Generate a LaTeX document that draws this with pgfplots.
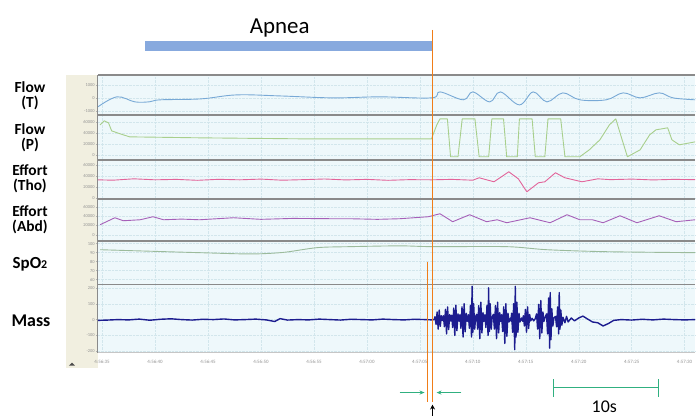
\documentclass[border=0pt]{standalone}
\usepackage{pgfplots}
\pgfplotsset{compat=1.18}
\usepackage{fontspec}
\setmainfont{Carlito}
\usetikzlibrary{arrows.meta}

\definecolor{panelbg}{HTML}{EEF8FB}
\definecolor{beige}{HTML}{F1EFE0}
\definecolor{sepgray}{HTML}{8A8A8A}
\definecolor{gridc}{HTML}{D2E6EC}
\definecolor{flowt}{HTML}{78A9D6}
\definecolor{flowp}{HTML}{A8CF8C}
\definecolor{tho}{HTML}{E2649A}
\definecolor{abd}{HTML}{A660B8}
\definecolor{spo}{HTML}{9CBB9C}
\definecolor{mass}{HTML}{1C1C8F}
\definecolor{orng}{HTML}{F07D18}
\definecolor{apneabar}{HTML}{87A9DE}
\definecolor{tealg}{HTML}{30B080}

\pgfplotsset{
  panel/.style={
    scale only axis, width=598bp, anchor=south west,
    xmin=34.6, xmax=91.0,
    axis background/.style={fill=panelbg},
    axis line style={draw=none},
    xtick={35,40,...,90}, xticklabels={}, xtick style={draw=none},
    xmajorgrids, ymajorgrids, ytick pos=left,
    major grid style={gridc, line width=0.4bp, densely dotted},
    ytick style={draw=gray!60, line width=0.4bp},
    tick align=outside, major tick length=2bp,
    yticklabel style={font=\fontsize{4.5}{5}\selectfont, text=gray!85, inner sep=1bp},
    scaled y ticks=false,
    /pgf/number format/1000 sep={},
    /pgf/number format/assume math mode=true,
  },
  sig/.style={line width=0.9bp, line join=round},
}

\begin{document}
\begin{tikzpicture}
\begin{scope}[x=1bp,y=1bp]
  \useasboundingbox (0,0) rectangle (696,416);
  \fill[white] (0,0) rectangle (696,416);
  \fill[beige] (66,48) rectangle (98,341);
  \fill[black!70] (69,50) -- (75,50) -- (72,53) -- cycle;
\end{scope}

% Flow (T)
\begin{axis}[panel, at={(98bp,301bp)}, height=40bp,
  ymin=-1310, ymax=1770, ytick={-1000,0,1000}]
\addplot[sig, flowt, smooth, tension=0.6] coordinates {
(34.6,-690) (36.4,80) (38.1,-310) (39.5,-300) (40.5,-150) (44.3,-80) (47.7,230)
(51.8,150) (56.8,0) (61.2,80) (66.1,0) (66.9,460) (69.1,-150) (70.0,460)
(71.6,-310) (72.6,460) (74.4,-540) (75.7,460) (77.0,-310) (78.5,385) (80.1,-150)
(82.6,-150) (84.2,385) (85.8,0) (87.6,385) (88.9,0) (91.0,-150)};
\end{axis}

% Flow (P)
\begin{axis}[panel, at={(98bp,256bp)}, height=45bp,
  ymin=-9100, ymax=72700, ytick={0,20000,40000,60000}]
\addplot[sig, flowp] coordinates {
(34.8,54500) (35.2,61800) (35.6,58200) (35.9,43600) (36.7,38200) (37.6,32700)
(44.3,30900) (53.7,29100) (66.1,29100) (66.6,54500) (66.9,65400) (67.6,65400)
(67.9,-3600) (68.6,-3600) (69.0,65400) (70.2,65400) (70.6,-3600) (71.5,-3600)
(71.8,65400) (72.9,65400) (73.2,-3600) (74.2,-3600) (74.4,65400) (75.6,65400)
(75.9,-3600) (76.8,-3600) (77.1,65400) (78.3,65400) (78.7,-3600) (80.1,-3600)
(81.0,9100) (82.0,27300) (82.9,54500) (83.5,65400) (84.1,27300) (84.6,-3600)
(85.8,9100) (86.7,36400) (87.3,45500) (88.4,49100) (88.8,27300) (89.5,18200)
(91.0,23600)};
\end{axis}

% Effort (Tho)
\begin{axis}[panel, at={(98bp,217bp)}, height=39bp,
  ymin=-1800, ymax=69100, ytick={0,20000,40000,60000}]
\addplot[sig, tho] coordinates {
(34.6,32700) (36,32000) (38,34500) (40,32700) (42,33500) (44,31800) (46,33600)
(48,32700) (50,34000) (52,32000) (54,33000) (56,34200) (58,32500) (60,33500)
(62,31800) (64,33000) (66.1,32700) (68,33500) (70,32000) (70.6,36400) (72.0,29100)
(73.4,47300) (74.3,34500) (75.1,10900) (76.2,27300) (76.8,29100) (77.8,45500)
(78.7,36400) (80.3,29100) (81.8,34500) (83,33000) (85,34000) (87,32500)
(89,33500) (91,33000)};
\end{axis}

% Effort (Abd)
\begin{axis}[panel, at={(98bp,175bp)}, height=42bp,
  ymin=-12860, ymax=77100, ytick={0,20000,40000,60000}]
\addplot[sig, abd] coordinates {
(34.8,21400) (36.2,36400) (37.0,30000) (38.6,32100) (39.8,38600) (40.8,32100)
(42.5,33500) (44.2,32100) (47.4,36400) (50,33000) (53,35000) (56.8,34300)
(58.4,34300) (61,33000) (63.1,34300) (65.8,38600) (66.9,45000) (68.1,27900)
(69.7,42900) (71.3,27900) (72.3,32100) (73.2,25700) (75.4,36400) (77.3,25700)
(78.9,42900) (80.1,32100) (81.3,32100) (82.3,25700) (83.9,40700) (85.5,25700)
(87.6,40700) (89.2,27900) (91.0,32100)};
\end{axis}

% SpO2
\begin{axis}[panel, at={(98bp,131bp)}, height=44bp,
  ymin=54.4, ymax=103.3, ytick={60,70,80,90,100}]
\addplot[sig, spo, smooth] coordinates {
(34.8,93.3) (44.2,90.0) (49.0,88.6) (52.1,90.3) (55.3,95.6) (58.4,96.7)
(63.1,97.6) (66.2,96.7) (73.2,96.7) (77.0,93.3) (82.6,91.1) (91.0,90.0)};
\end{axis}

% Mass
\begin{axis}[panel, at={(98bp,63bp)}, height=68bp,
  ymin=-208, ymax=220, ytick={-200,-100,0,100,200},
  xticklabels={4:56:35,4:56:40,4:56:45,4:56:50,4:56:55,4:57:00,4:57:05,4:57:10,4:57:15,4:57:20,4:57:25,4:57:30},
  xticklabel style={font=\fontsize{5}{5}\selectfont, text=gray!85, yshift=-2bp}]
\addplot[mass, line width=1.4bp, line join=round] coordinates {
(34.6,-5) (35.5,-3) (36.5,0) (37.5,-2) (38.5,3) (39.5,-4) (40.5,2) (41.5,5)
(42.5,0) (43.5,-3) (44.5,2) (45.5,0) (46.5,4) (47.5,-2) (48.5,0) (49.5,3)
(50.5,-2) (51.3,-12) (51.8,6) (52.5,-3) (53.5,0) (54.5,-2) (55.5,3) (56.5,0)
(57.5,-3) (58.5,2) (59.5,0) (60.5,-2) (61.5,3) (62.5,0) (63.5,-2) (64.5,2)
(65.5,0) (66.2,-2) (66.35,0)
(66.43,18) (66.53,-30) (66.63,48) (66.73,-60) (66.83,60) (66.93,-42) (67.03,24) (67.12,-6)
(67.22,24) (67.32,-45) (67.42,64) (67.52,-90) (67.62,80) (67.72,-63) (67.82,32) (67.91,-9)
(68.00,27) (68.10,-50) (68.20,72) (68.30,-100) (68.40,90) (68.50,-70) (68.60,36) (68.69,-10)
(68.78,30) (68.88,-55) (68.98,80) (69.08,-110) (69.18,100) (69.28,-77) (69.38,40) (69.47,-11)
(69.58,30) (69.68,-55) (69.78,90) (69.88,-110) (69.93,210) (70.00,-80) (70.08,100) (70.18,-60) (70.27,20)
(70.36,33) (70.46,-60) (70.56,88) (70.66,-120) (70.76,110) (70.86,-84) (70.96,44) (71.05,-12)
(71.14,30) (71.24,-50) (71.34,90) (71.44,-100) (71.49,200) (71.56,-75) (71.64,100) (71.74,-60) (71.83,15)
(71.94,33) (72.04,-60) (72.14,88) (72.24,-120) (72.34,110) (72.44,-84) (72.54,44) (72.63,-12)
(72.72,30) (72.82,-75) (72.92,80) (73.02,-150) (73.12,100) (73.22,-105) (73.32,40) (73.41,-15)
(73.55,10) (73.62,-10)
(73.66,40) (73.76,-80) (73.86,100) (73.96,-190) (74.01,210) (74.08,-110) (74.16,110) (74.26,-80) (74.36,40) (74.45,-15)
(74.60,10) (74.70,-10)
(74.77,24) (74.87,-40) (74.97,64) (75.07,-80) (75.17,80) (75.27,-56) (75.37,32) (75.46,-8)
(75.60,8) (75.75,-8) (75.90,6)
(76.02,36) (76.12,-60) (76.22,96) (76.32,-120) (76.42,120) (76.52,-84) (76.62,48) (76.71,-12)
(76.86,20) (76.96,36) (77.06,-90) (77.16,136) (77.26,-180) (77.31,170) (77.38,-126) (77.46,68) (77.56,-40) (77.66,10)
(77.81,20) (77.91,-45) (78.01,80) (78.11,-90) (78.16,170) (78.23,-60) (78.31,60) (78.41,-35) (78.51,15)
(78.70,-20) (78.85,20) (79.0,-15) (79.3,10) (79.6,-8) (80.0,10) (80.4,22) (80.8,5)
(81.3,-15) (81.8,-20) (82.3,-40) (82.8,-25) (83.3,-5) (84,0) (85,-3) (86,2) (87,-2)
(88,3) (89,0) (90,-2) (91,0)};
\end{axis}

\begin{scope}[x=1bp,y=1bp]
  % panel frame
  \foreach \yy in {341,301,256,217,175,131}
    \draw[sepgray, line width=1.6bp] (98,\yy) -- (696,\yy);
  \draw[gray!45, line width=0.8bp] (98,63) -- (696,63);
  \draw[sepgray, line width=1.2bp] (98,63) -- (98,341);
  % channel names
  \begin{scope}[every node/.style={font=\bfseries\fontsize{15.5}{15}\selectfont, align=center, inner sep=0pt}]
    \node at (30,320) {Flow\\(T)};
    \node at (30,278) {Flow\\(P)};
    \node at (30,237) {Effort\\(Tho)};
    \node at (30,196) {Effort\\(Abd)};
    \node[font=\bfseries\fontsize{17}{17}\selectfont] at (30,151) {SpO{\fontsize{12}{12}\selectfont 2}};
    \node[font=\bfseries\fontsize{18}{18}\selectfont] at (31,95) {Mass};
  \end{scope}
  % apnea annotation
  \fill[apneabar] (145,365) rectangle (432,375);
  \node[font=\fontsize{23}{23}\selectfont, inner sep=0pt] at (280,388) {Apnea};
  % event marker
  \draw[orng, line width=1.4bp] (428,154) -- (428,14);
  \draw[orng, line width=1.8bp] (433,386) -- (433,14);
  \draw[tealg, line width=1bp, -{Stealth[length=5bp,width=4bp]}] (400,23) -- (425,23);
  \draw[tealg, line width=1bp, -{Stealth[length=5bp,width=4bp]}] (462,23) -- (437,23);
  \draw[black, line width=1.2bp, -{Stealth[length=5bp,width=5bp]}] (433,0) -- (433,11);
  % 10 s scale bar
  \draw[tealg, line width=1.4bp] (554,28) -- (659,28);
  \draw[tealg, line width=1.4bp] (554,19) -- (554,37);
  \draw[tealg, line width=1.4bp] (659,19) -- (659,37);
  \node[font=\fontsize{18}{18}\selectfont, inner sep=0pt] at (605,9) {10s};
\end{scope}
\end{tikzpicture}
\end{document}
